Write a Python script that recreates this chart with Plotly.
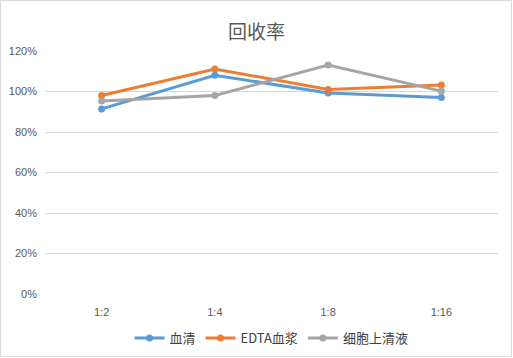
import plotly.graph_objects as go

categories = ["1:2", "1:4", "1:8", "1:16"]
serum = [0.914, 1.08, 0.993, 0.97]
edta = [0.98, 1.111, 1.01, 1.032]
cell = [0.953, 0.98, 1.131, 1.002]
names = ["血清", "EDTA血浆", "细胞上清液"]
colors = ["#5B9BD5", "#ED7D31", "#A5A5A5"]
yticks = [0, 0.2, 0.4, 0.6, 0.8, 1.0, 1.2]
ytick_text = ["0%", "20%", "40%", "60%", "80%", "100%", "120%"]

fig = go.Figure()
for name, vals, c in zip(names, [serum, edta, cell], colors):
    fig.add_trace(go.Scatter(x=list(range(len(categories))), y=vals, name=name,
                             mode="lines+markers",
                             line=dict(color=c, width=3),
                             marker=dict(color=c, size=7)))

W, H = 513, 358
ml, mr, mt, mb = 45, 15, 51, 64
pw, ph = W - ml - mr, H - mt - mb

fig.update_layout(
    width=W, height=H,
    margin=dict(l=ml, r=mr, t=mt, b=mb, autoexpand=False),
    paper_bgcolor="white", plot_bgcolor="white",
    font=dict(family="Liberation Sans, Noto Sans CJK SC", size=11, color="#595959"),
    title=dict(text="回收率", x=0.5, xanchor="center", y=1 - 32 / H, yanchor="middle",
               font=dict(family="Noto Sans CJK SC", size=19, color="#595959")),
    xaxis=dict(range=[-0.5, 3.5], tickmode="array", tickvals=list(range(4)), ticktext=categories,
               showgrid=False, zeroline=False, showline=False, ticks="", fixedrange=True,
               automargin=False, ticklabelstandoff=10),
    yaxis=dict(range=[0, 1.2], tickmode="array", tickvals=yticks, ticktext=ytick_text,
               showgrid=True, gridcolor="#D9D9D9", gridwidth=1, zeroline=False, showline=False,
               ticks="", ticklabelstandoff=7, automargin=False, fixedrange=True),
    legend=dict(orientation="h", x=0.5, xanchor="center", y=-(338 - mt - ph) / ph, yanchor="middle",
                font=dict(size=13, color="#404040", family="Noto Sans CJK SC"),
                itemwidth=30, tracegroupgap=0),
    showlegend=True,
    shapes=[dict(type="rect", xref="paper", yref="paper",
                 x0=-(ml - 0.5) / pw, x1=1 + (mr - 1.5) / pw,
                 y0=-(mb - 1.5) / ph, y1=1 + (mt - 0.5) / ph,
                 line=dict(color="#D9D9D9", width=1), layer="below")],
)

fig.write_html("out.html", config={"displayModeBar": False},
               post_script="document.body.style.margin='0';document.body.style.overflow='hidden';")
